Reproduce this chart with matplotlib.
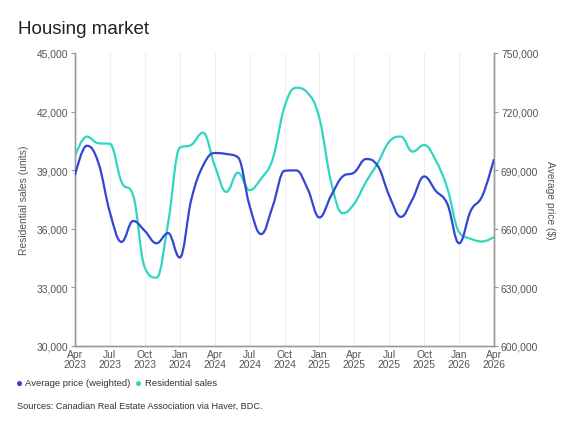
import numpy as np
import matplotlib.pyplot as plt
from matplotlib.path import Path
from matplotlib.patches import PathPatch
from matplotlib.ticker import FuncFormatter

plt.rcParams['font.family'] = ['Liberation Sans', 'DejaVu Sans']

#%% data, monthly Apr 2023 .. Apr 2026
months = ['Apr', 'May', 'Jun', 'Jul', 'Aug', 'Sep', 'Oct', 'Nov', 'Dec', 'Jan', 'Feb', 'Mar'] * 3 + ['Apr']
years = [2023] * 9 + [2024] * 12 + [2025] * 12 + [2026] * 4

sales = [39740, 40720, 40380, 40350, 38400, 37700, 34000, 33500, 36300, 40150,
         40300, 40920, 39250, 37890, 38870, 37980, 38580, 39600, 42250, 43220,
         42950, 41660, 38400, 36800, 37290, 38400, 39350, 40460, 40720, 39950,
         40290, 39500, 38060, 35830, 35490, 35350, 35580]

price = [687500, 702500, 694000, 668400, 653300, 664000, 658900, 652600, 657800, 645300,
         675200, 692300, 698800, 698300, 696600, 671800, 657300, 671800, 689700, 689900,
         680300, 665800, 676900, 686800, 688900, 695700, 692300, 676900, 666100, 675200,
         686800, 679400, 672600, 652600, 669200, 676900, 695700]

c_price = '#3346d3'
c_sales = '#2fd6c2'


def spline_path(x, y, smoothing=1.5):
    # bezier control points, same idea as the highcharts spline
    x = np.asarray(x, float)
    y = np.asarray(y, float)
    n = len(x)
    lc = np.zeros((n, 2))
    rc = np.zeros((n, 2))
    d = smoothing + 1
    for i in range(n):
        if i == 0 or i == n - 1:
            lc[i] = rc[i] = (x[i], y[i])
            continue
        lx = (smoothing * x[i] + x[i - 1]) / d
        ly = (smoothing * y[i] + y[i - 1]) / d
        rx = (smoothing * x[i] + x[i + 1]) / d
        ry = (smoothing * y[i] + y[i + 1]) / d
        corr = (ry - ly) * (rx - x[i]) / (rx - lx) + y[i] - ry
        ly += corr
        ry += corr
        if ly > y[i - 1] and ly > y[i]:
            ly = max(y[i - 1], y[i]); ry = 2 * y[i] - ly
        elif ly < y[i - 1] and ly < y[i]:
            ly = min(y[i - 1], y[i]); ry = 2 * y[i] - ly
        if ry > y[i + 1] and ry > y[i]:
            ry = max(y[i + 1], y[i]); ly = 2 * y[i] - ry
        elif ry < y[i + 1] and ry < y[i]:
            ry = min(y[i + 1], y[i]); ly = 2 * y[i] - ry
        lc[i] = (lx, ly)
        rc[i] = (rx, ry)
    verts = [(x[0], y[0])]
    codes = [Path.MOVETO]
    for i in range(1, n):
        verts += [tuple(rc[i - 1]), tuple(lc[i]), (x[i], y[i])]
        codes += [Path.CURVE4] * 3
    return Path(verts, codes)


xs = np.arange(len(sales))

fig = plt.figure(figsize=(5.75, 4.31), dpi=100)
ax = fig.add_axes([75 / 575, 1 - 347 / 431, 419 / 575, 293 / 431])
ax2 = ax.twinx()

ax.add_patch(PathPatch(spline_path(xs, sales), facecolor='none', edgecolor=c_sales, lw=1.6, zorder=3))
ax2.add_patch(PathPatch(spline_path(xs, price), facecolor='none', edgecolor=c_price, lw=1.6, zorder=3))

ax.set_xlim(0, len(sales) - 1)
ax.set_ylim(30000, 45000)
ax2.set_ylim(600000, 750000)
ax.set_yticks(np.arange(30000, 45001, 3000))
ax2.set_yticks(np.arange(600000, 750001, 30000))
fmt = FuncFormatter(lambda v, p: f'{v:,.0f}')
ax.yaxis.set_major_formatter(fmt)
ax2.yaxis.set_major_formatter(fmt)

tick_pos = xs[::3]
ax.set_xticks(tick_pos)
ax.set_xticklabels([f'{months[i]}\n{years[i]}' for i in tick_pos], linespacing=1.05)
ax.grid(axis='x', color='#efefef', lw=0.8)
ax.set_axisbelow(True)

for a in (ax, ax2):
    a.spines['top'].set_visible(False)
    for s in ('left', 'right', 'bottom'):
        a.spines[s].set_color('#9a9a9a')
        a.spines[s].set_linewidth(1.0)
    a.tick_params(colors='#9a9a9a', labelcolor='#555555', labelsize=7.4, length=3, width=0.8, pad=2)
ax.tick_params(axis='x', length=0, pad=2)

ax.set_ylabel('Residential sales (units)', color='#555555', fontsize=7.4, labelpad=5)
ax2.set_ylabel('Average price ($)', color='#555555', fontsize=7.4, rotation=270, labelpad=12)

fig.text(18 / 575, 1 - 30 / 431, 'Housing market', fontsize=13.5, color='#222222', va='center')

# legend
fig.text(16 / 575, 1 - 384 / 431, '\u25cf', color=c_price, fontsize=8.5, va='center')
fig.text(25 / 575, 1 - 384 / 431, 'Average price (weighted)', color='#333333', fontsize=6.8, va='center')
fig.text(135 / 575, 1 - 384 / 431, '\u25cf', color=c_sales, fontsize=8.5, va='center')
fig.text(145 / 575, 1 - 384 / 431, 'Residential sales', color='#333333', fontsize=6.8, va='center')

fig.text(17 / 575, 1 - 406 / 431, 'Sources: Canadian Real Estate Association via Haver, BDC.',
         color='#333333', fontsize=6.6, va='center')

fig.savefig('out.png', dpi=100)
